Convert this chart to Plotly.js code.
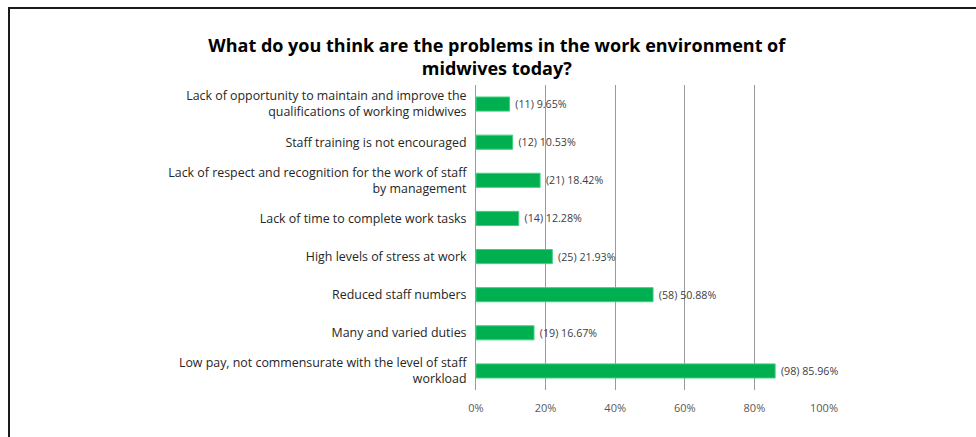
<!DOCTYPE html>
<html>
<head>
<meta charset="utf-8">
<script src="https://cdn.plot.ly/plotly-3.0.1.min.js"></script>
<style>
  html, body { margin: 0; padding: 0; background: #fff; }
  #wrap { position: relative; width: 976px; height: 437px; overflow: hidden; }
  #frame { position: absolute; left: 8px; top: 7px; width: 1000px; height: 500px;
           border-left: 2px solid #1a1a1a; border-top: 2px solid #1a1a1a; pointer-events: none; }
  #chart { position: absolute; left: 0; top: 0; width: 976px; height: 437px; }
</style>
</head>
<body>
<div id="wrap">
  <div id="chart"></div>
  <div id="frame"></div>
</div>
<script>
const categories = [
  "Lack of opportunity to maintain and improve the<br>qualifications of working midwives",
  "Staff training is not encouraged",
  "Lack of respect and recognition for the work of staff<br>by management",
  "Lack of time to complete work tasks",
  "High levels of stress at work",
  "Reduced staff numbers",
  "Many and varied duties",
  "Low pay, not commensurate with the level of staff<br>workload"
];
const counts = [11, 12, 21, 14, 25, 58, 19, 98];
const percents = [9.65, 10.53, 18.42, 12.28, 21.93, 50.88, 16.67, 85.96];
const tickVals = [0, 20, 40, 60, 80, 100];
const tickLabels = ["0%", "20%", "40%", "60%", "80%", "100%"];

const labels = counts.map((c, i) => "\u00a0(" + c + ") " + percents[i].toFixed(2) + "%");

const trace = {
  type: "bar",
  orientation: "h",
  y: categories,
  x: percents,
  text: labels,
  textposition: "outside",
  cliponaxis: false,
  textfont: { family: "Open Sans, sans-serif", size: 10.7, color: "#404040" },
  marker: { color: "#00B050", line: { color: "#3fd07f", width: 1 } },
  hoverinfo: "none"
};

const layout = {
  width: 976, height: 437,
  margin: { l: 476, r: 152, t: 85, b: 47 },
  paper_bgcolor: "rgba(0,0,0,0)",
  plot_bgcolor: "rgba(0,0,0,0)",
  showlegend: false,
  bargap: 0.63,
  title: {
    text: "<b>What do you think are the problems in the work environment of<br>midwives today?</b>",
    font: { family: "Open Sans, sans-serif", size: 18, color: "#000" },
    xref: "container", x: 0.509, xanchor: "center",
    yref: "container", y: 1 - 52 / 437, yanchor: "middle"
  },
  xaxis: {
    range: [0, 100],
    tickvals: tickVals,
    ticktext: tickLabels,
    showgrid: true,
    gridcolor: "#9a9a9a",
    gridwidth: 1,
    zeroline: false,
    showline: false,
    ticks: "outside",
    ticklen: 8,
    tickcolor: "rgba(0,0,0,0)",
    tickfont: { family: "Open Sans, sans-serif", size: 11, color: "#595959" },
    fixedrange: true
  },
  yaxis: {
    autorange: "reversed",
    type: "category",
    showgrid: false,
    showline: true,
    linecolor: "#9a9a9a",
    linewidth: 1,
    ticks: "outside",
    ticklen: 6,
    tickcolor: "rgba(0,0,0,0)",
    tickfont: { family: "Open Sans, sans-serif", size: 12.4, color: "#262626" },
    fixedrange: true
  }
};

Plotly.newPlot("chart", [trace], layout, { displayModeBar: false, staticPlot: true });
</script>
</body>
</html>
